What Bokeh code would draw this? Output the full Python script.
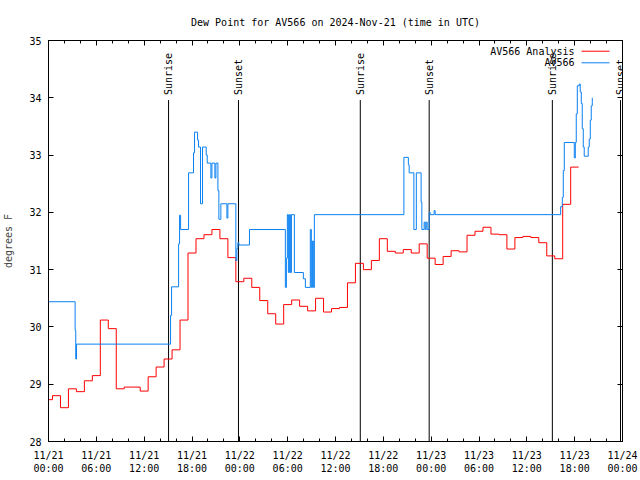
from math import pi
import pandas as pd
from bokeh.plotting import figure
from bokeh.models import (DatetimeTickFormatter, FixedTicker, DatetimeAxis, LinearAxis,
                          Range1d, ColumnDataSource, LabelSet, Label, CustomJSTickFormatter)
from bokeh.core.properties import value
from bokeh.embed import file_html
from bokeh.resources import INLINE

TITLE = "Dew Point for AV566 on 2024-Nov-21 (time in UTC)"
Y_LABEL = "degrees F"
START = pd.Timestamp("2024-11-21 00:00")
END = pd.Timestamp("2024-11-24 00:00")

# Analysis: one value per hour (hours after 11/21 00:00 UTC)
red_hours = list(range(67))
red_vals = [28.73, 28.80, 28.59, 28.92, 28.87, 29.06, 29.15, 30.12, 29.97, 28.92,
            28.95, 28.95, 28.88, 29.13, 29.30, 29.44, 29.60, 30.12, 31.29, 31.54,
            31.61, 31.70, 31.54, 31.21, 30.79, 30.85, 30.69, 30.46, 30.23, 30.05,
            30.39, 30.47, 30.36, 30.28, 30.50, 30.26, 30.32, 30.34, 30.77, 31.11,
            31.00, 31.16, 31.54, 31.32, 31.29, 31.35, 31.29, 31.45, 31.20, 31.09,
            31.23, 31.33, 31.31, 31.60, 31.67, 31.74, 31.62, 31.61, 31.36, 31.56,
            31.58, 31.56, 31.47, 31.24, 31.19, 32.14, 32.79]

# Station observations (hours after 11/21 00:00 UTC)
blue_hours = [0.00, 3.34, 3.42, 3.51, 15.31, 15.44, 16.32, 16.44, 16.57, 17.57,
              18.19, 18.32, 18.70, 18.82, 19.07, 19.32, 19.78, 19.91, 20.37, 20.50,
              20.87, 21.00, 21.25, 21.37, 21.62, 22.38, 22.50, 23.50, 23.63, 23.75,
              23.88, 25.21, 29.71, 29.84, 29.96, 30.09, 30.22, 30.34, 30.47, 30.84,
              31.97, 32.22, 32.84, 32.97, 33.10, 33.22, 33.35, 44.58, 45.14, 45.24,
              45.83, 46.14, 46.74, 46.83, 47.12, 47.25, 47.37, 47.50, 47.75, 47.87,
              48.37, 48.50, 64.24, 64.45, 64.57, 64.70, 65.95, 66.08, 66.20, 66.33,
              66.58, 66.70, 66.83, 66.95, 67.08, 67.20, 67.70, 67.83, 67.96, 68.08,
              68.21]
blue_vals = [30.44, 29.94, 29.44, 29.70, 30.20, 30.70, 31.45, 31.95, 31.70, 32.69,
             33.04, 33.40, 33.26, 33.14, 32.15, 33.14, 33.00, 32.86, 32.60, 32.86,
             32.60, 32.86, 32.38, 31.88, 32.15, 31.90, 32.15, 31.16, 31.37, 31.47,
             31.43, 31.70, 30.69, 31.20, 31.96, 30.95, 31.96, 30.95, 31.96, 30.95,
             30.84, 30.69, 31.70, 30.69, 31.50, 30.69, 31.96, 32.96, 32.83, 32.69,
             31.70, 32.69, 32.18, 31.70, 31.83, 31.70, 31.83, 31.70, 32.00, 31.96,
             32.03, 31.96, 32.10, 32.26, 32.73, 33.22, 32.95, 33.22, 33.72, 34.21,
             34.24, 34.10, 33.90, 33.46, 33.14, 32.98, 33.14, 33.28, 33.61, 33.86,
             34.00]

sun_hours = [15.06, 23.83, 39.11, 47.75, 63.20, 71.75]
sun_labels = ["Sunrise", "Sunset", "Sunrise", "Sunset", "Sunrise", "Sunset"]
SUN_LINE_TOP = 33.96

y_ticks = [28, 29, 30, 31, 32, 33, 34, 35]
major_tick_hours = [0, 6, 12, 18, 24, 30, 36, 42, 48, 54, 60, 66, 72]
minor_tick_hours = list(range(0, 73, 2))

legend_names = ["AV566 Analysis", "AV566"]
RED = "#ff0000"
BLUE = "#0a80f2"
FONT = "DejaVu Sans Mono"

H = 3600000.0
t0 = START.value // 10**6
t1 = END.value // 10**6


def ms(h):
    return t0 + h * H


# Analysis step edges: each hourly value holds from half an hour before to half an hour after
red_x = [ms(0)] + [ms(h - 0.5) for h in red_hours[1:]] + [ms(red_hours[-1] + 0.5)]
red_y = red_vals + [red_vals[-1]]
blue_x = [ms(h) for h in blue_hours]

W, HT = 640, 480
p = figure(width=W, height=HT, x_axis_type="datetime",
           x_range=Range1d(t0, t1), y_range=Range1d(28, 35),
           output_backend="svg", toolbar_location=None,
           min_border_left=47, min_border_right=18, min_border_top=40, min_border_bottom=39)
p.title.text = TITLE
p.title.align = "center"
p.title.text_font = FONT
p.title.text_font_size = "10px"
p.title.text_font_style = "normal"
p.title.text_color = "black"
p.title.standoff = 26

p.xgrid.visible = False
p.ygrid.visible = False
p.outline_line_color = "black"
p.outline_line_width = 1
p.background_fill_color = "white"
p.border_fill_color = "white"

xticker = FixedTicker(ticks=[ms(h) for h in major_tick_hours],
                      minor_ticks=[ms(h) for h in minor_tick_hours])
fmt = "%m/%d\n%H:%M"
xfmt = DatetimeTickFormatter(milliseconds=fmt, seconds=fmt, minsec=fmt, minutes=fmt,
                             hourmin=fmt, hours=fmt, days=fmt, months=fmt, years=fmt)
blank = CustomJSTickFormatter(code="return ''")


def style_axis(ax):
    ax.axis_line_color = "black"
    ax.major_tick_in = 5
    ax.major_tick_out = 0
    ax.minor_tick_in = 3
    ax.minor_tick_out = 0
    ax.major_tick_line_color = "black"
    ax.minor_tick_line_color = "black"
    ax.major_label_text_font = FONT
    ax.major_label_text_font_size = "10px"
    ax.major_label_text_color = "black"
    ax.axis_label_text_font = FONT
    ax.axis_label_text_font_size = "10px"
    ax.axis_label_text_font_style = "normal"


xa = p.xaxis[0]
xa.ticker = xticker
xa.formatter = xfmt
style_axis(xa)
xa.major_label_standoff = 8

ya = p.yaxis[0]
ya.ticker = FixedTicker(ticks=y_ticks)
ya.axis_label = Y_LABEL
style_axis(ya)
ya.minor_tick_in = 0
ya.major_label_standoff = 7
ya.axis_label_standoff = 12

top = DatetimeAxis(ticker=xticker, formatter=blank)
style_axis(top)
top.major_label_text_color = None
top.major_label_standoff = 0
p.add_layout(top, "above")

right = LinearAxis(ticker=FixedTicker(ticks=y_ticks), formatter=blank)
style_axis(right)
right.major_label_text_color = None
right.minor_tick_in = 0
right.major_label_standoff = 0
p.add_layout(right, "right")

# Sunrise / sunset markers
sun_src = ColumnDataSource(dict(x=[ms(h) for h in sun_hours],
                                y0=[28] * len(sun_hours),
                                y1=[SUN_LINE_TOP] * len(sun_hours),
                                t=sun_labels))
p.segment(x0="x", y0="y0", x1="x", y1="y1", source=sun_src, color="black", line_width=1)
p.add_layout(LabelSet(x="x", y="y1", text="t", source=sun_src, angle=pi / 2,
                      text_align="left", text_baseline="middle", y_offset=5,
                      text_font=value(FONT), text_font_size=value("10px"),
                      text_color="black"))

# Series
p.step(red_x, red_y, mode="after", color=RED, line_width=1)
p.step(blue_x, blue_vals, mode="after", color=BLUE, line_width=1)

# Legend (text right-aligned, sample line to the right)
ms_per_px = (t1 - t0) / 575.0
deg_per_px = 7.0 / 401.0
for i, (name, col) in enumerate(zip(legend_names, [RED, BLUE])):
    dy = 10.7 + 11.6 * i
    p.add_layout(Label(x=t1, y=35, x_offset=-48, y_offset=-dy, text=name,
                       text_align="right", text_baseline="middle",
                       text_font=FONT, text_font_size="10px", text_color="black"))
    yy = 35 - dy * deg_per_px
    p.line([t1 - 41 * ms_per_px, t1 - 13 * ms_per_px], [yy, yy], color=col, line_width=1)

open("out.html", "w").write(file_html(p, INLINE))
